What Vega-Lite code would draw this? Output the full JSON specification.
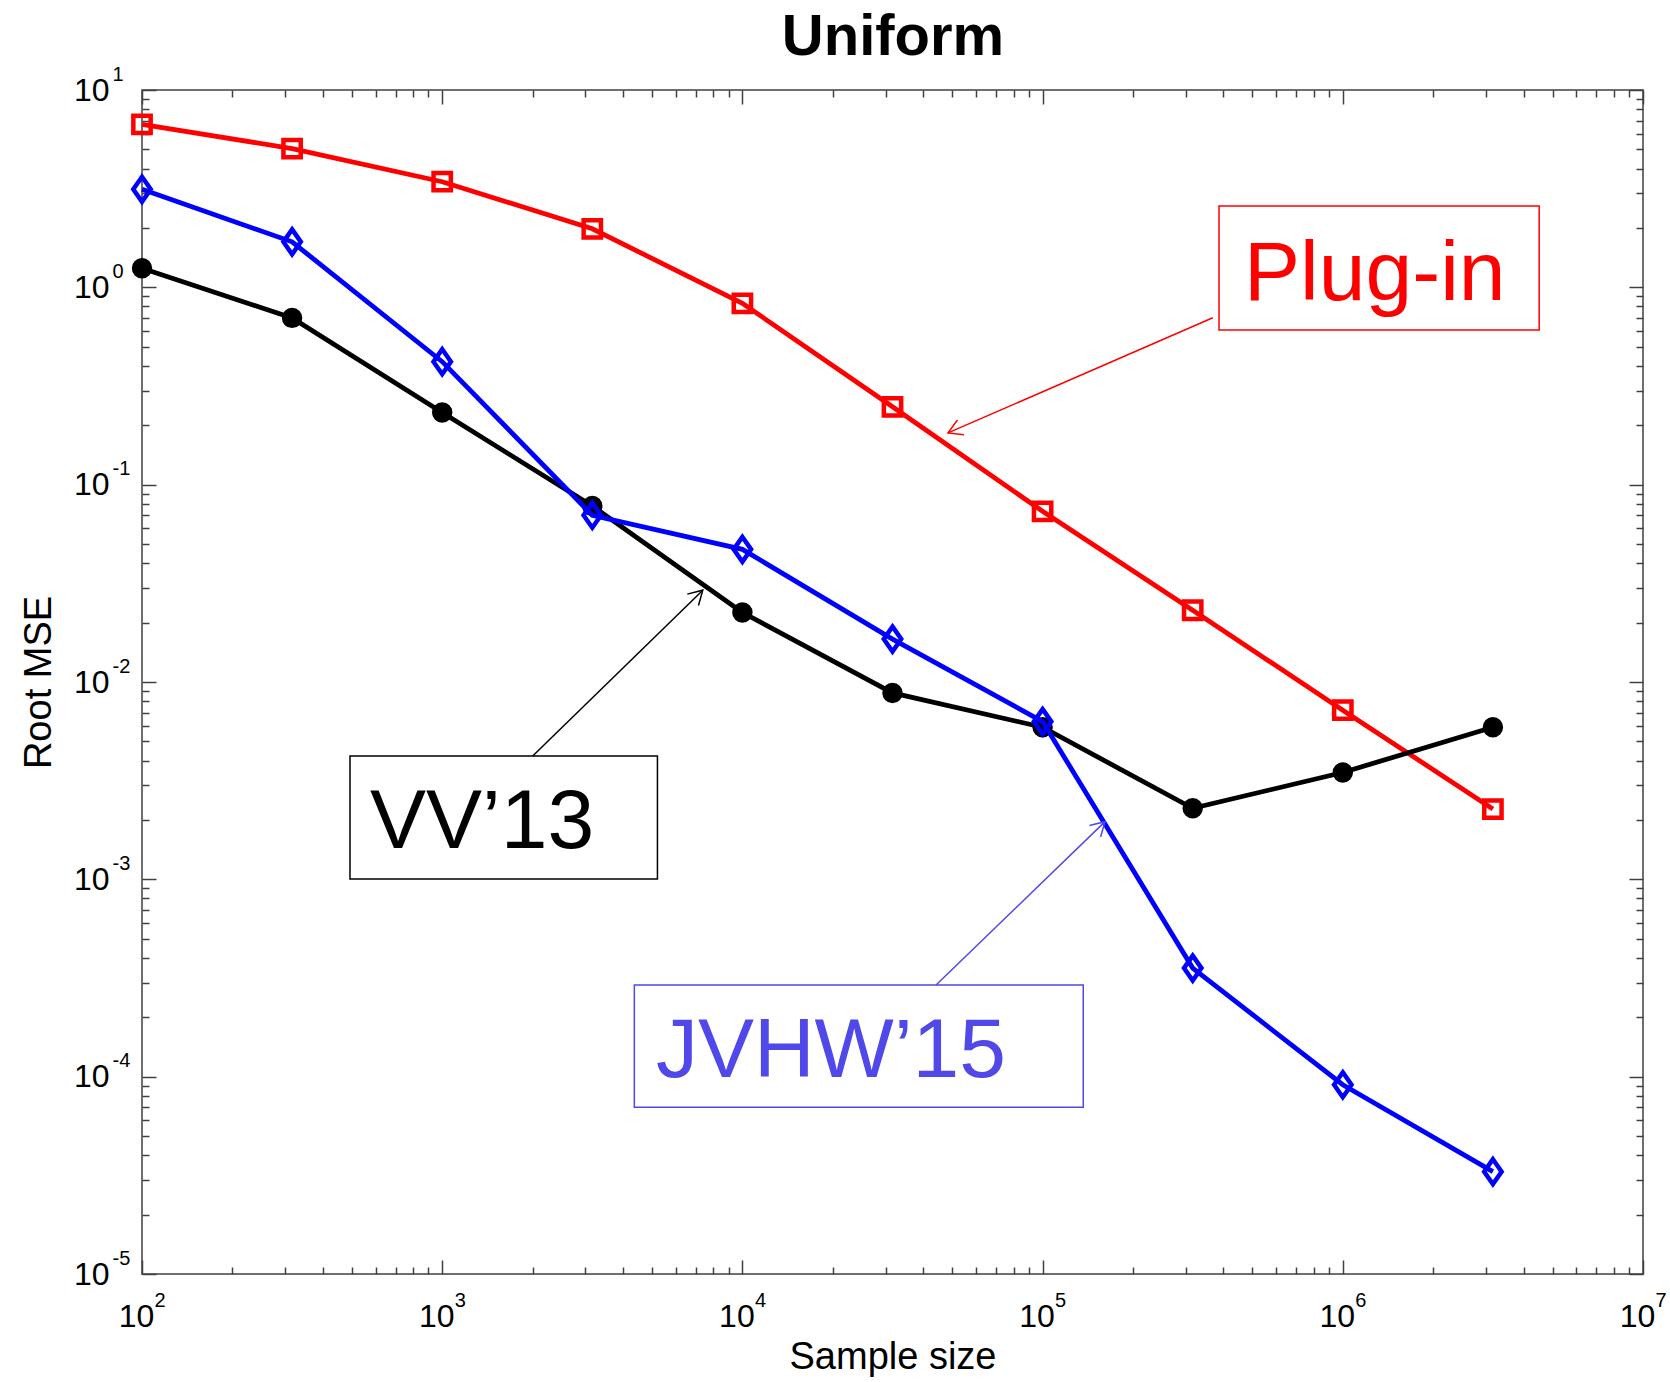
{
  "$schema": "https://vega.github.io/schema/vega-lite/v6.json",
  "width": 1501,
  "height": 1184,
  "autosize": {"type": "none"},
  "padding": {"left": 142, "top": 90, "right": 27, "bottom": 108},
  "background": "white",
  "datasets": {
    "results": [
      {"n": 100, "method": "Plug-in", "rmse": 6.7},
      {"n": 316.2278, "method": "Plug-in", "rmse": 5.05},
      {"n": 1000, "method": "Plug-in", "rmse": 3.43},
      {"n": 3162.278, "method": "Plug-in", "rmse": 1.98},
      {"n": 10000, "method": "Plug-in", "rmse": 0.83},
      {"n": 31622.78, "method": "Plug-in", "rmse": 0.248},
      {"n": 100000, "method": "Plug-in", "rmse": 0.0733},
      {"n": 316227.8, "method": "Plug-in", "rmse": 0.0231},
      {"n": 1000000, "method": "Plug-in", "rmse": 0.0072},
      {"n": 3162278, "method": "Plug-in", "rmse": 0.00227},
      {"n": 100, "method": "VV’13", "rmse": 1.25},
      {"n": 316.2278, "method": "VV’13", "rmse": 0.70},
      {"n": 1000, "method": "VV’13", "rmse": 0.232},
      {"n": 3162.278, "method": "VV’13", "rmse": 0.078},
      {"n": 10000, "method": "VV’13", "rmse": 0.0225},
      {"n": 31622.78, "method": "VV’13", "rmse": 0.0088},
      {"n": 100000, "method": "VV’13", "rmse": 0.0059},
      {"n": 316227.8, "method": "VV’13", "rmse": 0.00229},
      {"n": 1000000, "method": "VV’13", "rmse": 0.00348},
      {"n": 3162278, "method": "VV’13", "rmse": 0.0059},
      {"n": 100, "method": "JVHW’15", "rmse": 3.14},
      {"n": 316.2278, "method": "JVHW’15", "rmse": 1.70},
      {"n": 1000, "method": "JVHW’15", "rmse": 0.42},
      {"n": 3162.278, "method": "JVHW’15", "rmse": 0.070},
      {"n": 10000, "method": "JVHW’15", "rmse": 0.047},
      {"n": 31622.78, "method": "JVHW’15", "rmse": 0.0165},
      {"n": 100000, "method": "JVHW’15", "rmse": 0.0063},
      {"n": 316227.8, "method": "JVHW’15", "rmse": 0.000355},
      {"n": 1000000, "method": "JVHW’15", "rmse": 0.000091},
      {"n": 3162278, "method": "JVHW’15", "rmse": 0.000033}
    ],
    "notes": [
      {"label": "Plug-in", "box_x1": 387000, "box_x2": 4510000, "box_y1": 2.58, "box_y2": 0.608, "text_x": 469000, "text_y": 0.863, "arrow_x1": 369000, "arrow_y1": 0.701, "arrow_x2": 48400, "arrow_y2": 0.183},
      {"label": "VV’13", "box_x1": 493, "box_x2": 5212, "box_y1": 0.00422, "box_y2": 0.001004, "text_x": 575, "text_y": 0.001436, "arrow_x1": 2002, "arrow_y1": 0.00422, "arrow_x2": 7380, "arrow_y2": 0.0292},
      {"label": "JVHW’15", "box_x1": 4365, "box_x2": 136600, "box_y1": 0.0002914, "box_y2": 0.00007, "text_x": 5152, "text_y": 0.0000993, "arrow_x1": 44160, "arrow_y1": 0.0002914, "arrow_x2": 161400, "arrow_y2": 0.00196}
    ]
  },
  "config": {
    "view": {"stroke": "#404040", "strokeWidth": 1.5},
    "axis": {"grid": false, "domain": false, "labelFont": "Liberation Sans", "titleFont": "Liberation Sans", "labelColor": "#000000", "titleColor": "#000000", "tickColor": "#404040", "tickWidth": 1.5, "labelFlush": false, "labelOverlap": false, "titleFontWeight": "normal"}
  },
  "resolve": {"axis": {"x": "independent", "y": "independent"}},
  "layer": [
    {
      "data": {"name": "results"},
      "transform": [{"filter": "datum.method === 'Plug-in'"}],
      "mark": {"type": "line", "color": "#ff0000", "strokeWidth": 4.8},
      "encoding": {
        "x": {"field": "n", "type": "quantitative", "scale": {"type": "log", "domain": [100, 10000000], "nice": false},
          "axis": {"orient": "bottom", "values": [100, 1000, 10000, 100000, 1000000, 10000000], "labelExpr": "'10'", "ticks": false, "tickSize": 0, "labelFontSize": 32, "labelAlign": "center", "labelBaseline": "alphabetic", "labelPadding": 52, "labelOffset": -6, "title": "Sample size", "titleFontSize": 38, "titlePadding": 6}},
        "y": {"field": "rmse", "type": "quantitative", "scale": {"type": "log", "domain": [0.00001, 10], "nice": false},
          "axis": {"orient": "left", "values": [0.00001, 0.0001, 0.001, 0.01, 0.1, 1, 10], "labelExpr": "'10'", "ticks": false, "tickSize": 0, "labelFontSize": 32, "labelAlign": "right", "labelBaseline": "middle", "labelPadding": 33, "title": "Root MSE", "titleFontSize": 38, "titlePadding": 15}}
      }
    },
    {
      "data": {"name": "results"},
      "transform": [{"filter": "datum.method === 'Plug-in'"}],
      "mark": {"type": "point", "shape": "square", "filled": false, "color": "#ff0000", "strokeWidth": 4.5, "size": 300, "opacity": 1},
      "encoding": {
        "x": {"field": "n", "type": "quantitative", "scale": {"type": "log", "domain": [100, 10000000], "nice": false},
          "axis": {"orient": "bottom", "values": [100, 1000, 10000, 100000, 1000000, 10000000], "labelExpr": "'' + round(log(datum.value)/LN10)", "ticks": false, "tickSize": 0, "labelFontSize": 20, "labelAlign": "left", "labelBaseline": "alphabetic", "labelPadding": 32, "labelOffset": 12, "title": null}},
        "y": {"field": "rmse", "type": "quantitative", "scale": {"type": "log", "domain": [0.00001, 10], "nice": false},
          "axis": {"orient": "left", "values": [0.00001, 0.0001, 0.001, 0.01, 0.1, 1, 10], "labelExpr": "'' + round(log(datum.value)/LN10)", "ticks": false, "tickSize": 0, "labelFontSize": 20, "labelAlign": "left", "labelBaseline": "alphabetic", "labelPadding": 30, "labelOffset": -10, "title": null}}
      }
    },
    {
      "data": {"name": "results"},
      "transform": [{"filter": "datum.method === 'VV’13'"}],
      "mark": {"type": "line", "color": "#000000", "strokeWidth": 4.8},
      "encoding": {
        "x": {"field": "n", "type": "quantitative", "scale": {"type": "log", "domain": [100, 10000000], "nice": false},
          "axis": {"orient": "bottom", "values": [100, 200, 300, 400, 500, 600, 700, 800, 900, 1000, 2000, 3000, 4000, 5000, 6000, 7000, 8000, 9000, 10000, 20000, 30000, 40000, 50000, 60000, 70000, 80000, 90000, 100000, 200000, 300000, 400000, 500000, 600000, 700000, 800000, 900000, 1000000, 2000000, 3000000, 4000000, 5000000, 6000000, 7000000, 8000000, 9000000, 10000000], "labels": false, "ticks": true, "tickSize": {"condition": {"test": "abs(log(datum.value)/LN10 - round(log(datum.value)/LN10)) < 0.000001", "value": -14}, "value": -7}, "title": null}},
        "y": {"field": "rmse", "type": "quantitative", "scale": {"type": "log", "domain": [0.00001, 10], "nice": false},
          "axis": {"orient": "left", "values": [0.00001, 0.00002, 0.00003, 0.00004, 0.00005, 0.00006, 0.00007, 0.00008, 0.00009, 0.0001, 0.0002, 0.0003, 0.0004, 0.0005, 0.0006, 0.0007, 0.0008, 0.0009, 0.001, 0.002, 0.003, 0.004, 0.005, 0.006, 0.007, 0.008, 0.009, 0.01, 0.02, 0.03, 0.04, 0.05, 0.06, 0.07, 0.08, 0.09, 0.1, 0.2, 0.3, 0.4, 0.5, 0.6, 0.7, 0.8, 0.9, 1, 2, 3, 4, 5, 6, 7, 8, 9, 10], "labels": false, "ticks": true, "tickSize": {"condition": {"test": "abs(log(datum.value)/LN10 - round(log(datum.value)/LN10)) < 0.000001", "value": -14}, "value": -7}, "title": null}}
      }
    },
    {
      "data": {"name": "results"},
      "transform": [{"filter": "datum.method === 'VV’13'"}],
      "mark": {"type": "point", "shape": "circle", "filled": true, "color": "#000000", "stroke": "#000000", "strokeWidth": 2, "size": 340, "opacity": 1},
      "encoding": {
        "x": {"field": "n", "type": "quantitative", "scale": {"type": "log", "domain": [100, 10000000], "nice": false},
          "axis": {"orient": "top", "values": [100, 200, 300, 400, 500, 600, 700, 800, 900, 1000, 2000, 3000, 4000, 5000, 6000, 7000, 8000, 9000, 10000, 20000, 30000, 40000, 50000, 60000, 70000, 80000, 90000, 100000, 200000, 300000, 400000, 500000, 600000, 700000, 800000, 900000, 1000000, 2000000, 3000000, 4000000, 5000000, 6000000, 7000000, 8000000, 9000000, 10000000], "labels": false, "ticks": true, "tickSize": {"condition": {"test": "abs(log(datum.value)/LN10 - round(log(datum.value)/LN10)) < 0.000001", "value": -14}, "value": -7}, "title": "Uniform", "titleFont": "Liberation Sans", "titleFontSize": 58, "titleFontWeight": "bold", "titleBaseline": "alphabetic", "titlePadding": 35}},
        "y": {"field": "rmse", "type": "quantitative", "scale": {"type": "log", "domain": [0.00001, 10], "nice": false},
          "axis": {"orient": "right", "values": [0.00001, 0.00002, 0.00003, 0.00004, 0.00005, 0.00006, 0.00007, 0.00008, 0.00009, 0.0001, 0.0002, 0.0003, 0.0004, 0.0005, 0.0006, 0.0007, 0.0008, 0.0009, 0.001, 0.002, 0.003, 0.004, 0.005, 0.006, 0.007, 0.008, 0.009, 0.01, 0.02, 0.03, 0.04, 0.05, 0.06, 0.07, 0.08, 0.09, 0.1, 0.2, 0.3, 0.4, 0.5, 0.6, 0.7, 0.8, 0.9, 1, 2, 3, 4, 5, 6, 7, 8, 9, 10], "labels": false, "ticks": true, "tickSize": {"condition": {"test": "abs(log(datum.value)/LN10 - round(log(datum.value)/LN10)) < 0.000001", "value": -14}, "value": -7}, "title": null}}
      }
    },
    {
      "data": {"name": "results"},
      "transform": [{"filter": "datum.method === 'JVHW’15'"}],
      "mark": {"type": "line", "color": "#0000ff", "strokeWidth": 4.8},
      "encoding": {
        "x": {"field": "n", "type": "quantitative", "scale": {"type": "log", "domain": [100, 10000000], "nice": false}, "axis": null},
        "y": {"field": "rmse", "type": "quantitative", "scale": {"type": "log", "domain": [0.00001, 10], "nice": false}, "axis": null}
      }
    },
    {
      "data": {"name": "results"},
      "transform": [{"filter": "datum.method === 'JVHW’15'"}],
      "mark": {"type": "point", "shape": "M0,-1L0.7,0L0,1L-0.7,0Z", "filled": false, "color": "#0000ff", "strokeWidth": 4.5, "size": 620, "opacity": 1},
      "encoding": {
        "x": {"field": "n", "type": "quantitative", "scale": {"type": "log", "domain": [100, 10000000], "nice": false}, "axis": null},
        "y": {"field": "rmse", "type": "quantitative", "scale": {"type": "log", "domain": [0.00001, 10], "nice": false}, "axis": null}
      }
    },
    {
      "data": {"name": "notes"},
      "mark": {"type": "rect", "filled": false, "strokeWidth": 1.5, "opacity": 1},
      "encoding": {
        "x": {"field": "box_x1", "type": "quantitative", "scale": {"type": "log", "domain": [100, 10000000], "nice": false}, "axis": null},
        "x2": {"field": "box_x2"},
        "y": {"field": "box_y1", "type": "quantitative", "scale": {"type": "log", "domain": [0.00001, 10], "nice": false}, "axis": null},
        "y2": {"field": "box_y2"},
        "color": {"field": "label", "type": "nominal", "scale": {"domain": ["Plug-in", "VV’13", "JVHW’15"], "range": ["#ff0000", "#000000", "#5048e8"]}, "legend": null}
      }
    },
    {
      "data": {"name": "notes"},
      "mark": {"type": "text", "align": "left", "baseline": "alphabetic", "font": "Liberation Sans", "fontSize": 84},
      "encoding": {
        "x": {"field": "text_x", "type": "quantitative", "scale": {"type": "log", "domain": [100, 10000000], "nice": false}, "axis": null},
        "y": {"field": "text_y", "type": "quantitative", "scale": {"type": "log", "domain": [0.00001, 10], "nice": false}, "axis": null},
        "text": {"field": "label"},
        "color": {"field": "label", "type": "nominal", "scale": {"domain": ["Plug-in", "VV’13", "JVHW’15"], "range": ["#ff0000", "#000000", "#5048e8"]}, "legend": null}
      }
    },
    {
      "data": {"name": "notes"},
      "mark": {"type": "rule", "strokeWidth": 1.5},
      "encoding": {
        "x": {"field": "arrow_x1", "type": "quantitative", "scale": {"type": "log", "domain": [100, 10000000], "nice": false}, "axis": null},
        "x2": {"field": "arrow_x2"},
        "y": {"field": "arrow_y1", "type": "quantitative", "scale": {"type": "log", "domain": [0.00001, 10], "nice": false}, "axis": null},
        "y2": {"field": "arrow_y2"},
        "color": {"field": "label", "type": "nominal", "scale": {"domain": ["Plug-in", "VV’13", "JVHW’15"], "range": ["#ff0000", "#000000", "#5048e8"]}, "legend": null}
      }
    },
    {
      "data": {"name": "notes"},
      "transform": [{"filter": "datum.label === 'Plug-in'"}],
      "mark": {"type": "point", "shape": "M-0.866,-0.5L0,0L-0.866,0.5", "filled": false, "size": 1024, "strokeWidth": 1.5, "angle": 156.5, "opacity": 1},
      "encoding": {
        "x": {"field": "arrow_x2", "type": "quantitative", "scale": {"type": "log", "domain": [100, 10000000], "nice": false}, "axis": null},
        "y": {"field": "arrow_y2", "type": "quantitative", "scale": {"type": "log", "domain": [0.00001, 10], "nice": false}, "axis": null},
        "color": {"field": "label", "type": "nominal", "scale": {"domain": ["Plug-in", "VV’13", "JVHW’15"], "range": ["#ff0000", "#000000", "#5048e8"]}, "legend": null}
      }
    },
    {
      "data": {"name": "notes"},
      "transform": [{"filter": "datum.label === 'VV’13'"}],
      "mark": {"type": "point", "shape": "M-0.866,-0.5L0,0L-0.866,0.5", "filled": false, "size": 1024, "strokeWidth": 1.5, "angle": 315.7, "opacity": 1},
      "encoding": {
        "x": {"field": "arrow_x2", "type": "quantitative", "scale": {"type": "log", "domain": [100, 10000000], "nice": false}, "axis": null},
        "y": {"field": "arrow_y2", "type": "quantitative", "scale": {"type": "log", "domain": [0.00001, 10], "nice": false}, "axis": null},
        "color": {"field": "label", "type": "nominal", "scale": {"domain": ["Plug-in", "VV’13", "JVHW’15"], "range": ["#ff0000", "#000000", "#5048e8"]}, "legend": null}
      }
    },
    {
      "data": {"name": "notes"},
      "transform": [{"filter": "datum.label === 'JVHW’15'"}],
      "mark": {"type": "point", "shape": "M-0.866,-0.5L0,0L-0.866,0.5", "filled": false, "size": 1024, "strokeWidth": 1.5, "angle": 316, "opacity": 1},
      "encoding": {
        "x": {"field": "arrow_x2", "type": "quantitative", "scale": {"type": "log", "domain": [100, 10000000], "nice": false}, "axis": null},
        "y": {"field": "arrow_y2", "type": "quantitative", "scale": {"type": "log", "domain": [0.00001, 10], "nice": false}, "axis": null},
        "color": {"field": "label", "type": "nominal", "scale": {"domain": ["Plug-in", "VV’13", "JVHW’15"], "range": ["#ff0000", "#000000", "#5048e8"]}, "legend": null}
      }
    }
  ]
}
